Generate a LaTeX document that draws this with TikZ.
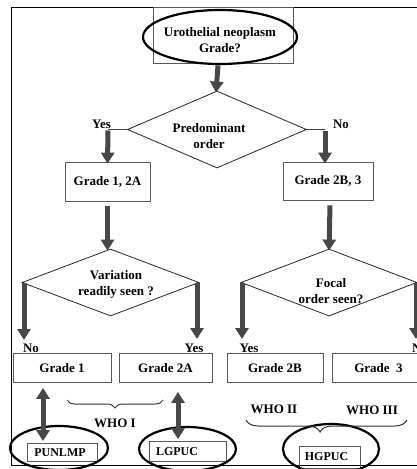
\documentclass[tikz,border=0pt]{standalone}
\usepackage{fontspec}
\setmainfont{Liberation Serif}
\usetikzlibrary{arrows.meta,shapes.geometric,decorations.pathreplacing}
\begin{document}
\begin{tikzpicture}[x=1pt,y=-1pt,
  txt/.style={font=\fontsize{13}{16}\selectfont\bfseries, align=center, inner sep=0pt},
  stxt/.style={font=\fontsize{12}{14}\selectfont\bfseries, inner sep=0pt},
  gbox/.style={draw=black!65, line width=0.75pt, rectangle, inner sep=0pt, font=\fontsize{13}{16}\selectfont\bfseries},
  dia/.style={draw=black!85, line width=0.8pt, diamond, inner sep=0pt, aspect=2.5},
  ring/.style={draw=black, line width=2.2pt, ellipse, inner sep=0pt},
  thin/.style={draw=black!75, line width=0.8pt},
  fat/.style={draw=black!72, line width=5pt, -{Triangle[width=13pt,length=11pt]}},
  fatboth/.style={draw=black!72, line width=5pt, {Triangle[width=13pt,length=11pt]}-{Triangle[width=13pt,length=11pt]}},
  brc/.style={draw=black!80, line width=1pt, decorate}
]
\useasboundingbox (0,0) rectangle (417,469);
% frame
\draw[black, line width=0.9pt] (11,7) rectangle (445,465);

% top
\node[gbox, minimum width=140, minimum height=56] (top) at (223,35) {};
\node[ring, minimum width=154, minimum height=54] (ell0) at (220,37) {};
\node[txt] (t0) at (220,40) {Urothelial neoplasm\\Grade?};

% diamond 1
\node[dia, minimum width=179, minimum height=77] (d1) at (217,129.5) {};
\node[txt] (t1) at (209,136) {Predominant\\order};

% boxes level 2
\node[gbox, minimum width=85, minimum height=39] (b1) at (107.5,181.5) {Grade 1, 2A};
\node[gbox, minimum width=90, minimum height=38] (b2) at (328,181) {Grade 2B, 3};

% diamonds level 3
\node[dia, minimum width=177, minimum height=67] (d2) at (110.5,282.5) {};
\node[txt] (t2) at (116,284) {Variation\\readily seen ?};
\node[dia, minimum width=176, minimum height=67] (d3) at (329,282.5) {};
\node[txt] (t3) at (331,291) {Focal\\order seen?};

% bottom row boxes
\node[gbox, minimum width=98, minimum height=29] (g1) at (62,368) {Grade 1};
\node[gbox, minimum width=93, minimum height=29] (g2a) at (165.5,368) {Grade 2A};
\node[gbox, minimum width=96, minimum height=29] (g2b) at (275,368) {Grade 2B};
\node[gbox, minimum width=93, minimum height=29] (g3) at (378.5,368) {Grade~~3};

% labels
\node[txt] (yes1) at (101.5,124) {Yes};
\node[txt] (no1) at (341,124) {No};
\node[txt] (no2) at (31,348) {No};
\node[txt] (yes2) at (194,348) {Yes};
\node[txt] (yes3) at (249,348) {Yes};
\node[txt] (no3) at (420,348) {No};

% connectors
\draw[fat] (top.south) ++(-5,2) coordinate (a0s) -- ([xshift=-1pt,yshift=-2pt]d1.north);
\coordinate (cy1) at (108,129.5);
\coordinate (cn1) at (325,129.5);
\draw[thin] (d1.west) -- (cy1);
\draw[thin] (d1.east) -- (cn1);
\draw[fat] ([yshift=-1pt]cy1) -- ([yshift=-2pt]b1.north);
\draw[fat] ([yshift=-1pt]cn1) -- ([xshift=-3pt,yshift=-2pt]b2.north);
\draw[fat] ([yshift=-5pt]b1.south) -- ([yshift=-2pt]d2.north -| b1.south);
\draw[fat] ([xshift=2pt,yshift=-5pt]b2.south) -- ([yshift=-2pt]d3.north);

\coordinate (cl2) at (24,282.5);
\coordinate (cr2) at (197,282.5);
\coordinate (cl3) at (242,282.5);
\coordinate (cr3) at (416,282.5);
\coordinate (el2) at (24,340);
\coordinate (er2) at (197,339);
\coordinate (el3) at (242,339);
\coordinate (er3) at (416,339);
\draw[fat] (cl2) -- (el2);
\draw[fat] (cr2) -- (er2);
\draw[fat] (cl3) -- (el3);
\draw[fat] (cr3) -- (er3);

% small result boxes
\node[gbox, minimum width=70, minimum height=18, font=\fontsize{12}{14}\selectfont\bfseries] (pun) at (62,452.5) {};
\node[stxt] (tpun) at (60,453) {PUNLMP};
\node[gbox, minimum width=77, minimum height=20] (lg) at (187.5,451.5) {};
\node[stxt] (tlg) at (177,452) {LGPUC};
\node[gbox, minimum width=61, minimum height=22] (hg) at (329.5,457) {};
\node[stxt] (thg) at (326.5,457) {HGPUC};

\node[ring, minimum width=98, minimum height=44] (e1) at (59,448) {};
\node[ring, minimum width=97, minimum height=44] (e2) at (187.5,449) {};
\node[ring, minimum width=96, minimum height=50] (e3) at (331,449) {};

% double arrows
\draw[fatboth] ([yshift=-5pt]g1.south -| 43,0) -- ([yshift=2pt]pun.north -| 43,0);
\draw[fatboth] ([yshift=-9pt]g2a.south -| 178,0) -- ([yshift=2pt]lg.north -| 178,0);

% braces
\coordinate (br1a) at (163,400);
\coordinate (br1b) at (67,400);
\draw[brc, decoration={brace, amplitude=8pt}] (br1a) -- (br1b);
\node[txt] (who1) at (115,423) {WHO I};
\node[txt] (who2) at (274,409) {WHO II};
\node[txt] (who3) at (372,410) {WHO III};
\coordinate (br2a) at (407,420);
\coordinate (br2b) at (246,420);
\draw[brc, decoration={brace, amplitude=12pt, aspect=0.54}] (br2a) -- (br2b);
\end{tikzpicture}
\end{document}
